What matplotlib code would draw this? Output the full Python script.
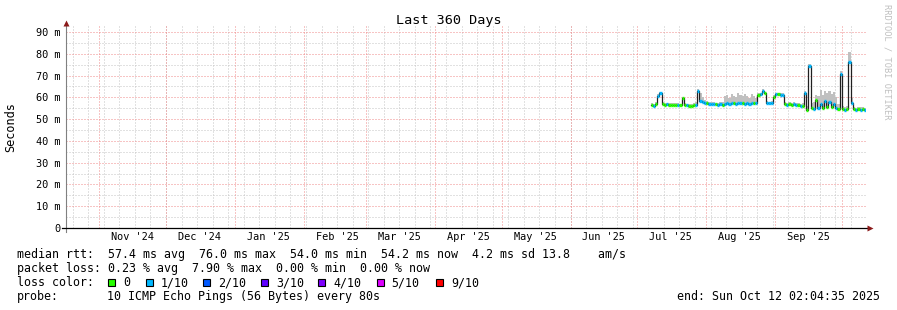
import matplotlib
matplotlib.use("Agg")
import matplotlib.pyplot as plt
import pandas as pd
from datetime import datetime, timedelta
from matplotlib.patches import Rectangle


# DATA

# one value per day, starting at first_day
first_day = "2025-07-07"
end_time = datetime(2025, 10, 12, 2, 4, 35)
span_days = 360

median_ms = [
    56.5, 55.8, 57.0, 60.5, 61.8, 57.0, 56.6, 56.8, 56.5, 56.6,
    56.4, 56.7, 56.5, 56.3, 59.5, 56.6, 56.3, 56.2, 56.0, 56.4,
    56.7, 63.0, 58.5, 58.0, 57.6, 57.2, 57.0, 56.8, 57.0, 56.8,
    56.7, 56.9, 56.7, 57.0, 57.3, 57.0, 57.5, 57.2, 57.0, 57.6,
    57.3, 57.6, 57.1, 57.4, 57.0, 57.5, 57.2, 57.3, 61.0, 61.4,
    63.0, 61.8, 57.5, 57.2, 57.6, 60.3, 61.4, 61.5, 61.3, 61.0,
    57.0, 56.7, 57.0, 56.6, 56.9, 56.5, 56.6, 56.0, 56.1, 61.8,
    54.3, 74.2, 55.2, 54.6, 58.6, 55.0, 56.8, 55.2, 58.2, 55.6,
    57.8, 55.4, 56.8, 55.0, 54.5, 70.5, 54.6, 54.0, 54.5, 76.0,
    57.6, 54.5, 54.3, 54.5, 54.4, 54.5, 54.2,
]

smoke_top_ms = [
    57.5, 57.0, 58.0, 61.5, 62.5, 58.0, 57.5, 57.5, 57.2, 57.3,
    57.2, 57.5, 57.3, 57.0, 60.0, 57.5, 57.0, 57.0, 56.8, 57.2,
    58.0, 64.0, 62.0, 60.0, 59.0, 58.5, 58.0, 57.8, 58.0, 57.6,
    57.5, 58.0, 58.0, 60.5, 61.0, 59.5, 61.5, 60.8, 60.0, 61.8,
    61.2, 60.5, 61.5, 60.8, 59.8, 61.5, 60.5, 59.5, 61.8, 62.2,
    64.0, 62.5, 58.5, 58.0, 58.3, 61.0, 62.0, 62.0, 62.0, 61.8,
    58.0, 57.5, 58.0, 57.5, 57.8, 57.3, 57.5, 57.0, 57.5, 63.0,
    56.0, 75.5, 57.5, 58.0, 61.0, 60.5, 63.5, 61.0, 63.0, 62.0,
    63.0, 61.5, 62.5, 60.0, 57.0, 72.0, 56.0, 55.5, 56.0, 81.0,
    59.5, 55.5, 55.3, 55.5, 55.4, 55.5, 55.2,
]

# index into loss_labels / loss_colors
loss_idx = [
    0, 1, 0, 1, 1, 0, 0, 1, 0, 0,
    0, 0, 1, 0, 0, 0, 1, 0, 0, 0,
    1, 1, 1, 1, 1, 0, 1, 1, 1, 0,
    1, 1, 0, 1, 1, 1, 1, 0, 1, 1,
    1, 0, 1, 1, 1, 1, 0, 1, 0, 1,
    1, 0, 1, 1, 1, 0, 1, 0, 1, 1,
    0, 1, 0, 0, 1, 1, 0, 1, 0, 1,
    0, 1, 0, 1, 0, 1, 1, 0, 1, 0,
    1, 0, 1, 1, 0, 1, 0, 1, 0, 1,
    1, 0, 1, 0, 1, 0, 1,
]

loss_labels = ["0", "1/10", "2/10", "3/10", "4/10", "5/10", "9/10"]
loss_colors = ["#26ff00", "#00b8ff", "#0059ff", "#5e00ff", "#7e00ff", "#dd00ff", "#ff0000"]

y_ticks = [0, 10, 20, 30, 40, 50, 60, 70, 80, 90]
y_tick_labels = ["0", "10 m", "20 m", "30 m", "40 m", "50 m", "60 m", "70 m", "80 m", "90 m"]

title = "Last 360 Days"
rtt_line = "median rtt:  57.4 ms avg  76.0 ms max  54.0 ms min  54.2 ms now  4.2 ms sd 13.8    am/s"
loss_line = "packet loss: 0.23 % avg  7.90 % max  0.00 % min  0.00 % now"
probe_text = "10 ICMP Echo Pings (56 Bytes) every 80s"
end_text = "end: " + end_time.strftime("%a %b %d %H:%M:%S %Y")


# LAYOUT

W, H = 897, 310
MONO = "DejaVu Sans Mono"
LEG = 8.42
minor_c = "#c4c4c4"
major_c = "#f08a8a"
dots = (0, (1, 2))

fig = plt.figure(figsize=(W / 100, H / 100), dpi=100)
px_left, px_right, px_bottom, px_top = 66.1, 866.4, 228, 26
ax = fig.add_axes([px_left / W, 1 - px_bottom / H,
                   (px_right - px_left) / W, (px_bottom - px_top) / H])

start_time = end_time - timedelta(days=span_days)
ax.set_xlim(start_time, end_time)
ax.set_ylim(0, 90 * (px_bottom - px_top) / (px_bottom - 32))
for s in ax.spines.values():
    s.set_visible(False)

# dotted grid
grid_kw = dict(lw=0.72, ls=dots)
for v in range(5, 90, 10):
    ax.axhline(v, color=minor_c, zorder=1, **grid_kw)
weeks = pd.date_range("2024-10-20", end_time, freq="7D")
for d in weeks:
    ax.axvline(d, color=minor_c, zorder=1, **grid_kw)
for v in range(10, 100, 10):
    ax.axhline(v, color=major_c, zorder=2, **grid_kw)
months = pd.date_range("2024-11-01", end_time, freq="MS")
for d in months:
    ax.axvline(d, color=major_c, zorder=2, **grid_kw)

# ticks
mids = [m + pd.Timedelta(days=15) for m in pd.date_range("2024-10-01", end_time, freq="MS")]
mids = [m for m in mids if start_time <= m <= end_time]
ax.set_xticks(mids)
ax.set_xticklabels([m.strftime("%b '%y") for m in mids], family=MONO, fontsize=7.4)
ax.set_yticks(y_ticks)
ax.set_yticklabels(y_tick_labels, family=MONO, fontsize=7.4)
ax.tick_params(axis="both", length=0)
ax.tick_params(axis="x", pad=3.2)
ax.tick_params(axis="y", pad=4.3)

# smoke, median line, loss colored blobs
days = pd.date_range(first_day, periods=len(median_ms), freq="D")
edges = list(days) + [pd.Timestamp(end_time)]
ax.fill_between(edges, median_ms + [median_ms[-1]], smoke_top_ms + [smoke_top_ms[-1]],
                step="post", color="#c0c0c0", lw=0, zorder=3)
ax.step(edges, median_ms + [median_ms[-1]], where="post", color="#202020", lw=0.9, zorder=4)
ax.hlines(median_ms, edges[:-1], edges[1:], colors=[loss_colors[k] for k in loss_idx],
          lw=2.4, zorder=5)

# overlay in pixel coordinates for frame, title and legend
ov = fig.add_axes([0, 0, 1, 1])
ov.set_xlim(0, W)
ov.set_ylim(H, 0)
ov.axis("off")

ov.plot([66, 66], [232, 25], color="#808080", lw=0.8)
ov.plot([62, 867], [228, 228], color="black", lw=0.9)
ov.plot(66, 22.5, marker="^", color="#8b1a1a", ms=4, mec="none")
ov.plot(870, 228, marker=">", color="#8b1a1a", ms=4, mec="none")

ov.text(W / 2, 24, title, family=MONO, fontsize=9.7, ha="center", va="baseline")
ov.text(11, 127, "Seconds", family=MONO, fontsize=8.6, rotation=90, ha="center", va="center")
ov.text(887, 4, "RRDTOOL / TOBI OETIKER", family=MONO, fontsize=6.2, color="#c0c0c0",
        rotation=-90, ha="center", va="top")

lx = 16.7
ov.text(lx, 258, rtt_line, family=MONO, fontsize=LEG, va="baseline")
ov.text(lx, 272, loss_line, family=MONO, fontsize=LEG, va="baseline")
ov.text(lx, 286, "loss color:", family=MONO, fontsize=LEG, va="baseline")
ov.text(lx, 300, "probe:", family=MONO, fontsize=LEG, va="baseline")
ov.text(107.3, 300, probe_text, family=MONO, fontsize=LEG, va="baseline")
ov.text(880, 300, end_text, family=MONO, fontsize=LEG, va="baseline", ha="right")

box_x = [108.3, 145.7, 203, 261, 318, 376.7, 436]
for bx, lab, col in zip(box_x, loss_labels, loss_colors):
    ov.add_patch(Rectangle((bx, 279.3), 7, 7, facecolor=col, edgecolor="black", lw=0.8))
    ov.text(bx + 15, 286, lab, family=MONO, fontsize=LEG, va="baseline")

fig.savefig("out.png", dpi=100)
